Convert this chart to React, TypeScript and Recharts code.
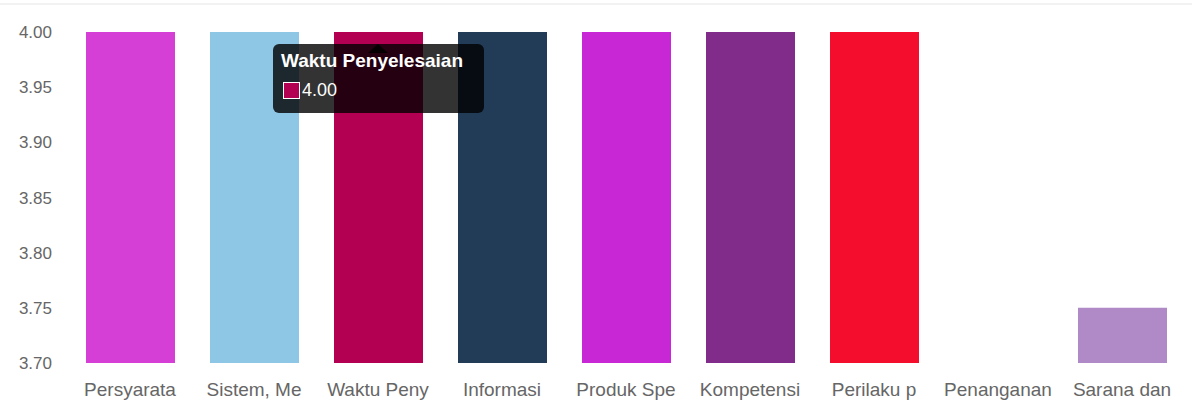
import { BarChart, Bar, XAxis, YAxis, Tooltip, Cell } from "recharts";

const CATEGORIES = [
  "Persyaratan",
  "Sistem, Mekanisme, dan Prosedur",
  "Waktu Penyelesaian",
  "Informasi",
  "Produk Spesifikasi Jenis Pelayanan",
  "Kompetensi Pelaksana",
  "Perilaku pelaksana",
  "Penanganan Pengaduan, Saran dan Masukan",
  "Sarana dan Prasarana",
];
const VALUES = [4.0, 4.0, 4.0, 4.0, 4.0, 4.0, 4.0, 3.7, 3.75];
const BAR_COLORS = [
  "#D63FD6",
  "#8EC6E6",
  "#B30052",
  "#223C57",
  "#C727D4",
  "#812C8A",
  "#F50D2D",
  "#4BC0C0",
  "#B08AC6",
];
const Y_TICKS = [3.7, 3.75, 3.8, 3.85, 3.9, 3.95, 4.0];

const data = CATEGORIES.map((name, i) => ({ name, value: VALUES[i], color: BAR_COLORS[i] }));

const FONT = "'Liberation Sans', Arial, Helvetica, sans-serif";

function TipBox({ active, payload, label }: any) {
  if (!active || !payload || !payload.length) return null;
  const p = payload[0];
  const color = p.payload?.color || "#B30052";
  return (
    <div style={{ position: "relative", fontFamily: FONT }}>
      <div
        style={{
          position: "absolute",
          left: 95,
          top: 0,
          width: 0,
          height: 0,
          borderLeft: "10px solid transparent",
          borderRight: "10px solid transparent",
          borderBottom: "9px solid rgba(0,0,0,0.8)",
        }}
      />
      <div
        style={{
          marginTop: 9,
          width: 211,
          height: 69,
          boxSizing: "border-box",
          background: "rgba(0,0,0,0.8)",
          borderRadius: 6,
          padding: "6px 8px",
          color: "#fff",
        }}
      >
        <div style={{ fontWeight: "bold", fontSize: 19, lineHeight: "20px", marginTop: 1 }}>
          {label}
        </div>
        <div style={{ display: "flex", alignItems: "center", marginTop: 9, fontSize: 18 }}>
          <span
            style={{
              display: "inline-block",
              width: 15,
              height: 15,
              background: color,
              border: "1px solid #fff",
              marginLeft: 2,
              marginRight: 2,
            }}
          />
          <span>{Number(p.value).toFixed(2)}</span>
        </div>
      </div>
    </div>
  );
}

export default function App() {
  return (
    <div style={{ position: "absolute", left: 0, top: 0, width: 1192, height: 400, background: "#fff" }}>
      <div
        style={{
          position: "absolute",
          left: 0,
          top: 3,
          width: 1192,
          height: 2,
          background: "#F2F2F2",
        }}
      />
      <BarChart
        width={1192}
        height={400}
        data={data}
        margin={{ top: 32, right: 8, bottom: 0, left: 0 }}
        barSize={89}
      >
        <XAxis
          dataKey="name"
          axisLine={false}
          tickLine={false}
          tickSize={6}
          tickMargin={14}
          height={37}
          interval={0}
          tickFormatter={(v: string) => v.slice(0, 10)}
          tick={{ fill: "#666", fontSize: 19, fontFamily: FONT }}
        />
        <YAxis
          domain={[3.7, 4.0]}
          ticks={Y_TICKS}
          allowDataOverflow
          axisLine={false}
          tickLine={false}
          width={68}
          tickSize={6}
          tickMargin={10}
          tickFormatter={(v: number) => v.toFixed(2)}
          tick={{ fill: "#666", fontSize: 17, fontFamily: FONT }}
        />
        <Tooltip
          active
          defaultIndex={2}
          cursor={false}
          isAnimationActive={false}
          position={{ x: 273, y: 35 }}
          wrapperStyle={{ outline: "none" }}
          content={<TipBox />}
        />
        <Bar dataKey="value" isAnimationActive={false}>
          {data.map((d) => (
            <Cell key={d.name} fill={d.color} />
          ))}
        </Bar>
      </BarChart>
    </div>
  );
}
